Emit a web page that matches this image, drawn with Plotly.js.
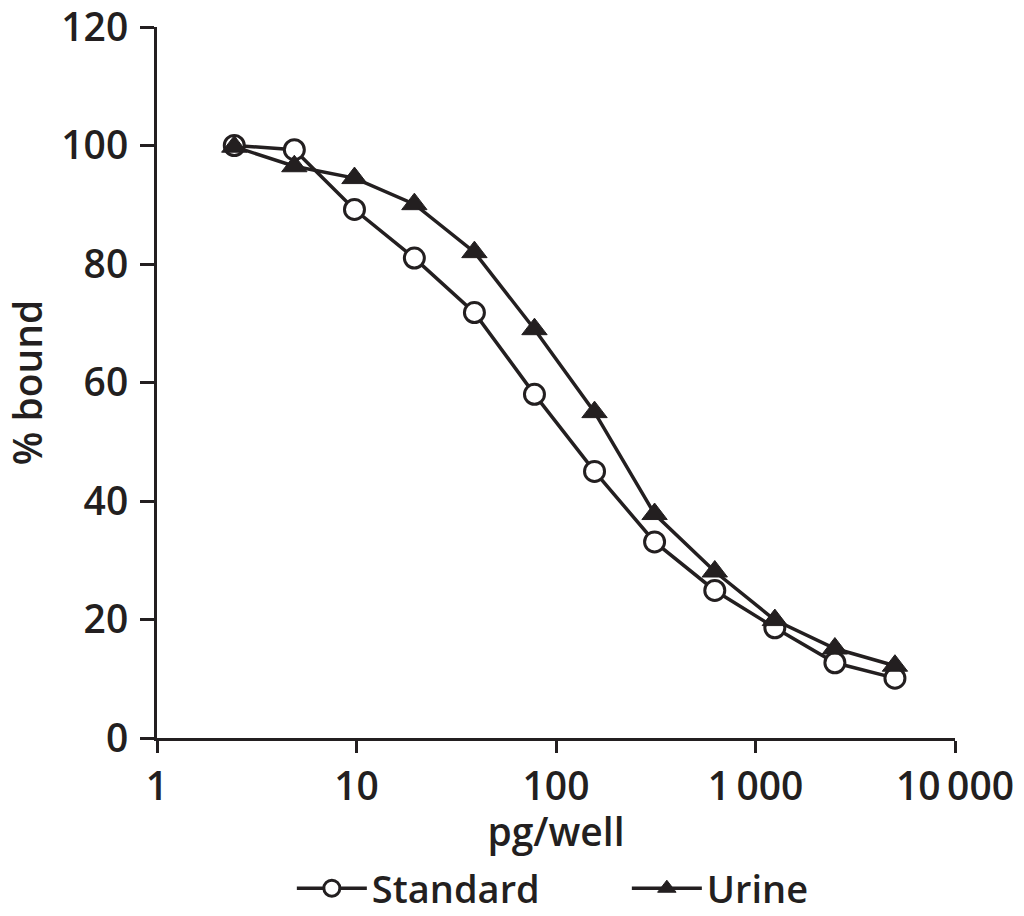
<!DOCTYPE html>
<html><head><meta charset="utf-8">
<script src="https://cdn.plot.ly/plotly-3.0.1.min.js"></script>
<style>body{margin:0;background:#fff}#chart{width:1024px;height:916px}</style>
</head><body><div id="chart"></div>
<script>
const dose = [2.44, 4.88, 9.77, 19.5, 39, 78, 156, 312, 625, 1250, 2500, 5000];
const standard = [100, 99.3, 89.2, 81, 71.8, 58, 45, 33.1, 24.9, 18.6, 12.7, 10.1];
const urine = [99.8, 96.5, 94.5, 90.1, 82, 69, 55, 37.8, 28.1, 19.9, 15.1, 12.2];
const xTickVals = [1, 10, 100, 1000, 10000];
const xTickText = ['1', '10', '100', '1\u2009000', '10\u2009000'];
const yTickVals = [0, 20, 40, 60, 80, 100, 120];

const font = {family: 'Open Sans, Noto Sans, sans-serif', size: 39, color: '#231f20', weight: 600};
const legendFont = {family: 'Open Sans, Noto Sans, sans-serif', size: 38, color: '#231f20', weight: 600};
const traces = [
  {x: dose, y: standard, name: 'Standard', mode: 'lines+markers', type: 'scatter',
   line: {color: '#231f20', width: 3.5},
   marker: {symbol: 'circle', size: 20, color: '#fff', line: {color: '#231f20', width: 3}}},
  {x: dose, y: urine, name: 'Urine', mode: 'lines+markers', type: 'scatter',
   line: {color: '#231f20', width: 3.5},
   marker: {symbol: 'triangle-up', size: 22, color: '#231f20', line: {color: '#231f20', width: 1}}}
];
const layout = {
  width: 1024, height: 916,
  margin: {l: 157, r: 69, t: 27, b: 178},
  paper_bgcolor: '#fff', plot_bgcolor: '#fff',
  font: font,
  showlegend: true,
  legend: {orientation: 'h', xref: 'container', yref: 'container', x: 0.285, xanchor: 'left',
    y: 0.03, yanchor: 'middle', font: legendFont, itemwidth: 70, entrywidth: 250, entrywidthmode: 'pixels',
    bgcolor: 'rgba(0,0,0,0)'},
  xaxis: {type: 'log', range: [0, 4], tickvals: xTickVals, ticktext: xTickText,
    showgrid: false, zeroline: false, showline: true, linecolor: '#231f20', linewidth: 3,
    ticks: 'outside', ticklen: 12, tickwidth: 3, tickcolor: '#231f20', tickfont: font,
    automargin: 'bottom', ticklabeloverflow: 'allow',
    title: {text: 'pg/well', font: font, standoff: 4}},
  yaxis: {range: [0, 120], tickvals: yTickVals, showgrid: false, zeroline: false,
    showline: true, linecolor: '#231f20', linewidth: 3, automargin: 'left', ticklabeloverflow: 'allow',
    ticks: 'outside', ticklen: 14, tickwidth: 3, tickcolor: '#231f20', tickfont: font,
    ticklabelstandoff: 4,
    title: {text: '% bound', font: font, standoff: 8}}
};
Plotly.newPlot('chart', traces, layout, {displayModeBar: false});
</script></body></html>
